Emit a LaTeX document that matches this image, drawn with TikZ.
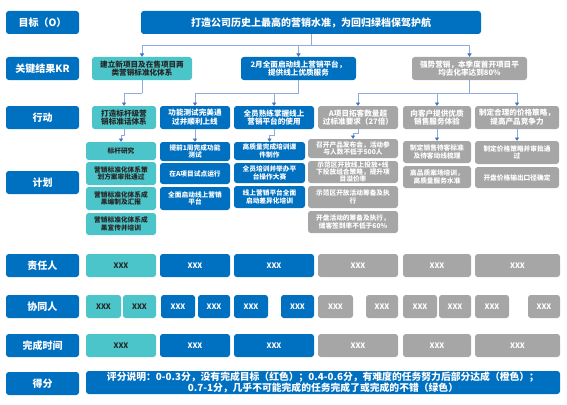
\documentclass[tikz,border=0pt]{standalone}
\usepackage{fontspec}
\setmainfont{Noto Sans CJK SC}
\usetikzlibrary{arrows.meta}
\definecolor{cblue}{HTML}{0070C0}
\definecolor{cteal}{HTML}{4BC5C9}
\definecolor{cgray}{HTML}{A6A6A6}
\definecolor{cline}{HTML}{8FAADC}
\definecolor{carr}{HTML}{4472C4}
\newcommand\bnode[7]{%
  \pgfmathsetmacro\bxcx{(#3+#5)/2}%
  \pgfmathsetmacro\bxcy{(#4+#6)/2}%
  \pgfmathsetmacro\bxww{#5-#3}%
  \pgfmathsetmacro\bxhh{#6-#4}%
  \pgfmathsetmacro\bxtw{#5-#3-2}%
  \node[#2, minimum width=\bxww pt, minimum height=\bxhh pt, text width=\bxtw pt] (#1) at (\bxcx,\bxcy) {#7};}
\tikzset{
  base/.style={rounded corners=2.8pt, inner sep=0pt, align=center},
  lab/.style={base, fill=cblue, text=white, font=\fontsize{10}{11}\selectfont\bfseries},
  bl/.style={base, fill=cblue, text=white},
  te/.style={base, fill=cteal, text=black!85},
  gr/.style={base, fill=cgray, text=white},
  fk/.style={font=\fontsize{7.6}{8.8}\selectfont\bfseries},
  fp/.style={font=\fontsize{6.7}{7.4}\selectfont\bfseries},
  fx/.style={font=\fontsize{7.5}{8}\selectfont\bfseries},
  ln/.style={draw=cline, line width=0.9pt},
  ar/.style={draw=cline, line width=0.9pt, -{Triangle[width=4.2pt,length=3.3pt,color=carr]}},
}
\begin{document}
\begin{tikzpicture}[x=1pt,y=-1pt]
\useasboundingbox (0,0) rectangle (567,404);
% left labels
\bnode{l0}{lab}{6}{11}{79}{34}{目标（O）}
\bnode{l1}{lab}{6}{57}{79}{80}{关键结果KR}
\bnode{l2}{lab}{6}{106}{79}{129}{行动}
\bnode{l3}{lab}{6}{171}{79}{194}{计划}
\bnode{l4}{lab}{6}{254}{79}{277}{责任人}
\bnode{l5}{lab}{6}{295}{79}{318}{协同人}
\bnode{l6}{lab}{6}{334}{79}{357}{完成时间}
\bnode{l7}{lab}{6}{372}{79}{395}{得分}
% goal
\bnode{goal}{bl,font=\fontsize{10}{12}\selectfont\bfseries}{141}{11}{481}{34}{打造公司历史上最高的营销水准，为回归绿档保驾护航}
% KR
\bnode{kr1}{te,fk}{92}{57}{192}{80}{建立新项目及在售项目两\\类营销标准化体系}
\bnode{kr2}{bl,fk}{241}{57}{356}{80}{2月全面启动线上营销平台，\\提供线上优质服务}
\bnode{kr3}{gr,fk}{412}{57}{527}{80}{强势营销，本季度首开项目平\\均去化率达到80\%}
% actions
\bnode{a1}{te,fk}{92}{106}{156}{129}{打造标杆级营\\销标准话体系}
\bnode{a2}{bl,fk}{160}{106}{230}{129}{功能测试完美通\\过并顺利上线}
\bnode{a3}{bl,fk}{234}{106}{314}{129}{全员熟练掌握线上\\营销平台的使用}
\bnode{a4}{gr,fk}{318}{106}{398}{129}{A项目拓客数量超\\过标准要求（27倍）}
\bnode{a5}{gr,fk}{403}{106}{471}{129}{向客户提供优质\\销售服务体验}
\bnode{a6}{gr,fk}{475}{106}{559}{129}{制定合理的价格策略，\\提高产品竞争力}
% plans col1
\bnode{p1a}{te,fp}{86}{142}{156}{160}{标杆研究}
\bnode{p1b}{te,fp}{86}{162}{156}{185}{营销标准化体系策\\划方案审批通过}
\bnode{p1c}{te,fp}{86}{187}{156}{210}{营销标准化体系成\\果编制及汇报}
\bnode{p1d}{te,fp}{86}{213}{156}{235}{营销标准化体系成\\果宣传并培训}
% col2
\bnode{p2a}{bl,fp}{160}{142}{230}{161}{提前1周完成功能\\测试}
\bnode{p2b}{bl,fp}{160}{163}{230}{184}{在A项目试点运行}
\bnode{p2c}{bl,fp}{160}{187}{230}{210}{全面启动线上营销\\平台}
% col3
\bnode{p3a}{bl,fp}{234}{142}{305}{160}{高质量完成培训课\\件制作}
\bnode{p3b}{bl,fp}{234}{163}{305}{183}{全员培训并举办平\\台操作大赛}
\bnode{p3c}{bl,fp}{234}{186}{305}{208}{线上营销平台全面\\启动差异化培训}
% col4
\bnode{p4a}{gr,fp}{308}{139}{398}{158}{召开产品发布会，活动参\\与人数不低于500人}
\bnode{p4b}{gr,fp}{308}{161}{398}{183}{示范区开放线上投放+线\\下投放组合策略，提升项\\目溢价率}
\bnode{p4c}{gr,fp}{308}{186}{398}{208}{示范区开放活动筹备及执\\行}
\bnode{p4d}{gr,fp}{308}{211}{398}{233}{开盘活动的筹备及执行，\\储客签到率不低于60\%}
% col5
\bnode{p5a}{gr,fp}{403}{141}{471}{163}{制定销售待客标准\\及待客动线梳理}
\bnode{p5b}{gr,fp}{403}{166}{471}{188}{高品质案场培训，\\高质量服务水准}
% col6
\bnode{p6a}{gr,fp}{475}{141}{559}{164}{制定价格策略并审批通\\过}
\bnode{p6b}{gr,fp}{475}{167}{559}{188}{开盘价格输出口径确定}
% responsible
\bnode{r1}{te,fx}{86}{254}{156}{277}{XXX}
\bnode{r2}{bl,fx}{160}{254}{230}{277}{XXX}
\bnode{r3}{bl,fx}{234}{254}{314}{277}{XXX}
\bnode{r4}{gr,fx}{318}{254}{398}{277}{XXX}
\bnode{r5}{gr,fx}{403}{254}{471}{277}{XXX}
\bnode{r6}{gr,fx}{475}{254}{560}{277}{XXX}
% co-workers
\bnode{c1}{te,fx}{86}{295}{121}{318}{XXX}
\bnode{c2}{te,fx}{123}{295}{156}{318}{XXX}
\bnode{c3}{bl,fx}{161}{295}{195}{318}{XXX}
\bnode{c4}{bl,fx}{198}{295}{230}{318}{XXX}
\bnode{c5}{bl,fx}{234}{295}{268}{318}{XXX}
\bnode{c6}{bl,fx}{281}{295}{314}{318}{XXX}
\bnode{c7}{gr,fx}{318}{295}{353}{318}{XXX}
\bnode{c8}{gr,fx}{366}{295}{398}{318}{XXX}
\bnode{c9}{gr,fx}{403}{295}{437}{318}{XXX}
\bnode{c10}{gr,fx}{439}{295}{471}{318}{XXX}
\bnode{c11}{gr,fx}{475}{295}{509}{318}{XXX}
\bnode{c12}{gr,fx}{528}{295}{560}{318}{XXX}
% completion
\bnode{t1}{te,fx}{86}{334}{156}{357}{XXX}
\bnode{t2}{bl,fx}{160}{334}{230}{357}{XXX}
\bnode{t3}{bl,fx}{234}{334}{314}{357}{XXX}
\bnode{t4}{gr,fx}{318}{334}{398}{357}{XXX}
\bnode{t5}{gr,fx}{403}{334}{471}{357}{XXX}
\bnode{t6}{gr,fx}{475}{334}{560}{357}{XXX}
% score
\bnode{sc}{bl,font=\fontsize{9.8}{11}\selectfont\bfseries}{86}{371}{560}{394}{评分说明：0-0.3分，没有完成目标（红色）；0.4-0.6分，有难度的任务努力后部分达成（橙色）；\\0.7-1分，几乎不可能完成的任务完成了或完成的不错（绿色）}
% connectors goal -> KR
\coordinate (g1) at (311,45);
\draw[ln] (goal.south) -- (g1);
\draw[ar] (g1) -| (kr1.north);
\draw[ar] (g1) -| (kr2.north);
\draw[ar] (g1) -| (kr3.north);
% KR -> actions
\coordinate (k1) at (142,93);
\draw[ln] (kr1.south) -- (k1);
\draw[ar] (k1) -| (a1.north);
\coordinate (k2) at (298.5,93);
\draw[ln] (kr2.south) -- (k2);
\draw[ar] (k2) -| (a2.north);
\draw[ar] (k2) -| (a3.north);
\coordinate (k3) at (469.5,93);
\draw[ln] (kr3.south) -- (k3);
\draw[ar] (k3) -| (a4.north);
\draw[ar] (k3) -| (a5.north);
\draw[ar] (k3) -| (a6.north);
% actions -> plans
\draw[ar] (a1.south) -- ++(0,6) -| (p1a.north);
\draw[ar] (a2.south) -- (p2a.north);
\draw[ar] (a3.south) -- ++(0,6) -| (p3a.north);
\draw[ar] (a4.south) -- ++(0,4) -| (p4a.north);
\draw[ar] (a5.south) -- (p5a.north);
\draw[ar] (a6.south) -- (p6a.north);
\end{tikzpicture}
\end{document}
